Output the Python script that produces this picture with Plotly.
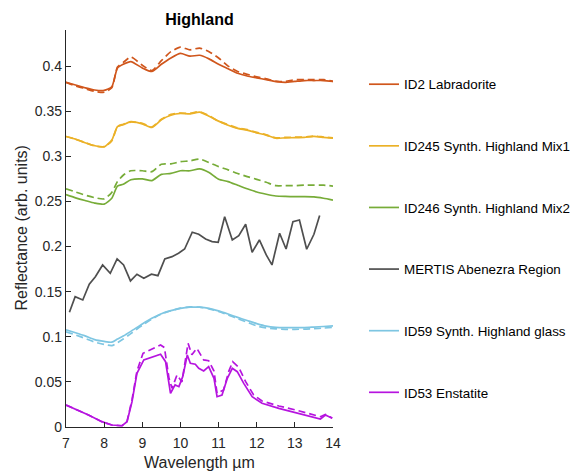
import plotly.graph_objects as go

# ---------------- data ----------------
wl_lab = [7.0, 7.25, 7.5, 7.75, 8.0, 8.2, 8.35, 8.5, 8.7, 9.0, 9.25, 9.5, 9.75, 10.0,
          10.25, 10.5, 10.75, 11.0, 11.25, 11.5, 11.75, 12.0, 12.25, 12.5, 12.75, 13.0,
          13.25, 13.5, 13.75, 14.0]

labradorite = [0.382, 0.379, 0.376, 0.3735, 0.373, 0.377, 0.398, 0.402, 0.405, 0.398,
               0.394, 0.402, 0.409, 0.414, 0.411, 0.412, 0.408, 0.402, 0.397, 0.392,
               0.389, 0.387, 0.385, 0.383, 0.382, 0.383, 0.384, 0.384, 0.384, 0.383]
labradorite_d = [0.382, 0.378, 0.375, 0.372, 0.371, 0.376, 0.399, 0.404, 0.410, 0.401,
                 0.395, 0.406, 0.416, 0.421, 0.418, 0.420, 0.416, 0.409, 0.400, 0.394,
                 0.391, 0.388, 0.386, 0.383, 0.383, 0.385, 0.385, 0.385, 0.385, 0.383]

mix1 = [0.322, 0.319, 0.315, 0.3118, 0.3105, 0.318, 0.333, 0.335, 0.3385, 0.336,
        0.332, 0.3405, 0.3455, 0.3475, 0.347, 0.349, 0.3445, 0.339, 0.3345, 0.331,
        0.329, 0.326, 0.3235, 0.320, 0.3205, 0.3207, 0.321, 0.322, 0.321, 0.320]
mix1_d = [0.322, 0.319, 0.3152, 0.3115, 0.3108, 0.317, 0.333, 0.3355, 0.338, 0.3365,
          0.3325, 0.341, 0.3465, 0.348, 0.3475, 0.3495, 0.345, 0.339, 0.335, 0.3315,
          0.3295, 0.3265, 0.3238, 0.3205, 0.321, 0.3212, 0.3215, 0.3225, 0.3215, 0.3205]

mix2 = [0.2575, 0.254, 0.251, 0.2482, 0.247, 0.2535, 0.267, 0.269, 0.274, 0.275,
        0.273, 0.280, 0.281, 0.284, 0.284, 0.286, 0.282, 0.2746, 0.272, 0.268,
        0.264, 0.2605, 0.258, 0.256, 0.2555, 0.2553, 0.2553, 0.255, 0.2535, 0.2515]
mix2_d = [0.264, 0.2605, 0.257, 0.2542, 0.2528, 0.260, 0.272, 0.279, 0.284, 0.284,
          0.283, 0.2912, 0.2916, 0.294, 0.295, 0.297, 0.293, 0.2886, 0.285, 0.281,
          0.2775, 0.2745, 0.2712, 0.2675, 0.2675, 0.2675, 0.268, 0.268, 0.268, 0.267]

glass = [0.1078, 0.1045, 0.101, 0.0968, 0.0948, 0.094, 0.0975, 0.1008, 0.106, 0.1142,
         0.1205, 0.1256, 0.129, 0.1315, 0.1328, 0.1328, 0.1315, 0.1287, 0.1252, 0.1215,
         0.118, 0.1146, 0.1118, 0.1105, 0.1101, 0.1101, 0.1102, 0.1108, 0.1114, 0.112]
glass_d = [0.1055, 0.102, 0.0982, 0.0942, 0.0915, 0.0902, 0.0935, 0.0975, 0.1035, 0.1128,
           0.1195, 0.1252, 0.1289, 0.1317, 0.1331, 0.1328, 0.131, 0.128, 0.1242, 0.120,
           0.1162, 0.112, 0.1098, 0.1088, 0.1083, 0.1083, 0.1084, 0.109, 0.1096, 0.1105]

wl_mertis = [7.09, 7.24, 7.44, 7.61, 7.77, 7.96, 8.16, 8.34, 8.51, 8.69, 8.86, 9.04,
             9.24, 9.41, 9.59, 9.78, 9.95, 10.11, 10.31, 10.48, 10.66, 10.83, 10.99,
             11.16, 11.36, 11.53, 11.71, 11.88, 12.07, 12.25, 12.40, 12.60, 12.77,
             12.95, 13.12, 13.31, 13.50, 13.65]
mertis = [0.1271, 0.1445, 0.1408, 0.1582, 0.1666, 0.1796, 0.1704, 0.1863, 0.1796,
          0.1619, 0.1693, 0.1649, 0.1693, 0.1677, 0.1863, 0.1888, 0.1926, 0.1973,
          0.2159, 0.2136, 0.2084, 0.2055, 0.2047, 0.2331, 0.2073, 0.2121, 0.2247,
          0.1937, 0.2073, 0.1907, 0.1796, 0.2147, 0.1973, 0.2276, 0.2295, 0.197,
          0.2136, 0.2343]

wl_en = [7.0, 7.24, 7.59, 7.94, 8.2, 8.47, 8.6, 8.73, 8.86, 9.04, 9.21, 9.48, 9.61,
         9.74, 9.86, 9.96, 10.06, 10.18, 10.26, 10.39, 10.48, 10.61, 10.74, 10.88,
         10.96, 11.09, 11.23, 11.36, 11.49, 11.66, 11.88, 12.14, 12.58, 13.01, 13.46,
         13.67, 13.8, 13.98]
enstatite = [0.0244, 0.020, 0.0133, 0.0059, 0.0022, 0.0014, 0.0059, 0.028, 0.0595,
             0.0743, 0.0768, 0.0806, 0.0724, 0.0374, 0.0466, 0.0447, 0.0558, 0.0798,
             0.0706, 0.0695, 0.0651, 0.0621, 0.0669, 0.054, 0.0336, 0.0355, 0.054,
             0.0651, 0.0613, 0.0484, 0.0336, 0.0263, 0.0207, 0.0163, 0.0114, 0.0089,
             0.0133, 0.0096]
wl_en_d = [7.0, 7.24, 7.59, 7.94, 8.2, 8.47, 8.6, 8.73, 8.86, 9.02, 9.21, 9.48, 9.58,
           9.70, 9.78, 9.91, 10.04, 10.2, 10.3, 10.43, 10.61, 10.74, 10.88, 10.96,
           11.13, 11.27, 11.37, 11.53, 11.71, 11.92, 12.14, 12.58, 13.01, 13.46, 13.67,
           13.8, 13.98]
enstatite_d = [0.0244, 0.020, 0.0133, 0.0059, 0.0022, 0.0014, 0.0062, 0.030, 0.062,
               0.0817, 0.0854, 0.0909, 0.088, 0.054, 0.043, 0.0576, 0.050, 0.0928,
               0.080, 0.0872, 0.0743, 0.0735, 0.062, 0.0374, 0.041, 0.062, 0.0724,
               0.066, 0.0502, 0.0355, 0.0288, 0.0233, 0.019, 0.0133, 0.0114, 0.014,
               0.010]

names = ["ID2 Labradorite", "ID245 Synth. Highland Mix1", "ID246 Synth. Highland Mix2",
         "MERTIS Abenezra Region", "ID59 Synth. Highland glass", "ID53 Enstatite"]
colors = ["#D0561C", "#EBB127", "#77AC38", "#4F4F4F", "#7EC6E2", "#B614DF"]

x_ticks = [7, 8, 9, 10, 11, 12, 13, 14]
y_ticks = [0, 0.05, 0.1, 0.15, 0.2, 0.25, 0.3, 0.35, 0.4]

# ---------------- figure ----------------
FONT = "Arial, 'Liberation Sans', Helvetica, sans-serif"
W, H = 582, 471
OFF = 8  # page body margin offset
fig = go.Figure()

series = [
    (wl_lab, labradorite, wl_lab, labradorite_d, "spline"),
    (wl_lab, mix1, wl_lab, mix1_d, "spline"),
    (wl_lab, mix2, wl_lab, mix2_d, "spline"),
    (wl_mertis, mertis, None, None, "linear"),
    (wl_lab, glass, wl_lab, glass_d, "spline"),
    (wl_en, enstatite, wl_en_d, enstatite_d, "linear"),
]

for i, (xs, ys, xd, yd, shape) in enumerate(series):
    if xd is not None:
        fig.add_trace(go.Scatter(
            x=xd, y=yd, mode="lines", showlegend=False, hoverinfo="skip",
            line=dict(color=colors[i], width=1.7, dash="7px,4px", shape=shape, smoothing=0.6),
        ))
    fig.add_trace(go.Scatter(
        x=xs, y=ys, mode="lines", name=names[i], legendgroup=names[i],
        line=dict(color=colors[i], width=1.7, shape=shape, smoothing=0.6),
    ))

# plot area in page pixels: left 66, right 333, top 30, bottom 427
pl, pr, pt, pb = 66 - OFF, 333 - OFF, 30 - OFF, 427 - OFF
pw, ph = pr - pl, pb - pt

axis_col = "#262626"
fig.update_layout(
    width=W, height=H,
    margin=dict(l=pl, r=W - pr, t=pt, b=H - pb, autoexpand=False),
    paper_bgcolor="white", plot_bgcolor="white",
    font=dict(family=FONT, size=14, color=axis_col),
    title=dict(text="<b>Highland</b>", x=(199.5 - OFF) / W, xanchor="center",
               xref="container", y=1 - (19 - OFF) / H, yanchor="middle", yref="container",
               font=dict(size=16, color="black", family=FONT)),
    xaxis=dict(range=[7, 14], tickvals=x_ticks, ticks="inside", ticklen=5,
               tickcolor=axis_col, showline=True, linecolor=axis_col, linewidth=1.3,
               showgrid=False, zeroline=False, ticklabelstandoff=3,
               tickfont=dict(size=14, color=axis_col)),
    yaxis=dict(range=[0, 0.44], tickvals=y_ticks, ticks="inside", ticklen=5,
               tickcolor=axis_col, showline=True, linecolor=axis_col, linewidth=1.3,
               showgrid=False, zeroline=False, tickfont=dict(size=14, color=axis_col)),
    legend=dict(x=(364 - OFF - pl) / pw, xanchor="left",
                y=1 - (69 - OFF - pt) / ph, yanchor="top",
                tracegroupgap=41.2, font=dict(size=13.4, color="black", family=FONT),
                bgcolor="rgba(0,0,0,0)", itemwidth=30),
    showlegend=True,
    annotations=[
        dict(text="Wavelength µm", xref="paper", yref="paper", x=0.5,
             y=-(462 - 427) / ph, xanchor="center", yanchor="middle", showarrow=False,
             font=dict(size=16, color=axis_col, family=FONT)),
        dict(text="Reflectance (arb. units)", xref="paper", yref="paper",
             x=-(66 - 21) / pw, y=0.5, xanchor="center", yanchor="middle", textangle=-90,
             showarrow=False, font=dict(size=16, color=axis_col, family=FONT)),
    ],
)

fig.write_html("out.html", config={"displayModeBar": False})
